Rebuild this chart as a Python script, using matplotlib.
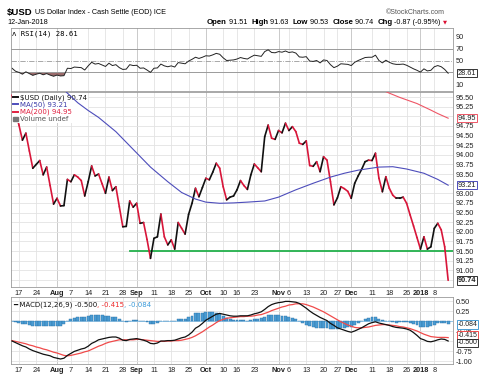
import numpy as np
import pandas as pd
import matplotlib
matplotlib.use('Agg')
import matplotlib.pyplot as plt
from matplotlib.lines import Line2D
from matplotlib.patches import Patch
from matplotlib.collections import LineCollection

# trading days on the chart (ICE had no settle on these days)
holidays = ['2017-09-04', '2017-10-09', '2017-11-23', '2017-12-25', '2018-01-01']
dates = pd.bdate_range('2017-07-13', '2018-01-12')
dates = dates[~dates.isin(pd.to_datetime(holidays))]

close = [95.55, 95.12, 94.77, 94.38, 94.56, 94.10, 93.65, 93.75, 93.85, 93.48,
         93.68, 93.20, 92.72, 92.87, 92.67, 92.68, 93.36, 93.30, 93.48, 93.42,
         93.33, 92.93, 93.30, 93.71, 93.45, 93.50, 93.25, 93.00, 93.42, 93.07,
         93.17, 92.65, 92.13, 92.14, 92.80, 92.64, 92.74, 92.22, 92.24, 91.80,
         91.31, 91.83, 91.87, 92.46, 91.87, 91.66, 91.79, 91.55, 92.24, 92.09,
         91.94, 92.45, 92.74, 93.13, 92.91, 93.15, 93.39, 93.35, 93.55, 93.78,
         93.65, 93.17, 92.83, 92.90, 92.93, 93.09, 93.33, 93.20, 93.10, 93.48,
         93.76, 93.66, 93.56, 94.47, 94.77, 94.43, 94.40, 94.63, 94.57, 94.82,
         94.63, 94.73, 94.60, 94.30, 94.27, 94.36, 93.72, 93.70, 93.82, 93.56,
         93.95, 93.86, 93.30, 92.70, 92.88, 93.17, 93.12, 93.05, 92.87, 93.26,
         93.45, 93.62, 93.82, 93.86, 93.85, 94.04, 93.39, 93.04, 93.43, 93.13,
         92.95, 92.87, 92.87, 92.90, 92.74, 92.44, 92.15, 91.85, 91.55, 91.87,
         91.55, 91.61, 92.09, 92.22, 92.05, 91.61, 90.74]

rsi = [37, 32, 30, 27, 31, 28, 25, 27, 28.5, 26,
       28, 25.5, 23.5, 25.5, 24, 24.5, 37, 36.5, 39, 38.5,
       38, 34, 41, 47, 44, 45, 42.5, 40, 45.5, 41.5,
       43, 38, 35, 35.5, 43, 41.5, 42, 37, 37.5, 34,
       30, 37, 37.5, 44, 41, 39.5, 41, 39, 46.5, 45.5,
       44.5, 49, 52, 55.5, 53.5, 55.5, 58, 57.5, 59.5, 62,
       60.5, 54.5, 50, 50.5, 51, 52.5, 55, 53.5, 52.5, 56,
       59, 58, 57, 65, 68, 63.5, 63, 65, 64, 66,
       63.5, 64.5, 62.5, 56, 55.5, 56.5, 49, 48.5, 50, 46,
       51, 50, 43, 38, 40.5, 44.5, 44, 43.5, 41.5, 47,
       50, 52.5, 55, 55.5, 55.5, 59, 50, 46, 50.5, 47,
       44.5, 43.5, 43.5, 44, 42, 39, 36, 33.5, 30.5, 36,
       32.5, 33.5, 39.5, 41.5, 39.5, 35, 28.61]

macd = [-0.50, -0.54, -0.58, -0.62, -0.65, -0.70, -0.74, -0.77, -0.80, -0.83,
        -0.85, -0.87, -0.91, -0.93, -0.95, -0.93, -0.86, -0.81, -0.76, -0.73,
        -0.70, -0.68, -0.63, -0.56, -0.52, -0.47, -0.45, -0.43, -0.41, -0.40,
        -0.40, -0.43, -0.48, -0.49, -0.46, -0.45, -0.44, -0.46, -0.48, -0.51,
        -0.56, -0.57, -0.55, -0.50, -0.50, -0.49, -0.49, -0.48, -0.45, -0.42,
        -0.40, -0.35, -0.28, -0.18, -0.13, -0.06, 0.02, 0.07, 0.12, 0.17,
        0.19, 0.17, 0.15, 0.13, 0.12, 0.12, 0.13, 0.13, 0.13, 0.15,
        0.18, 0.20, 0.23, 0.29, 0.36, 0.41, 0.44, 0.46, 0.47, 0.49,
        0.49, 0.48, 0.47, 0.44, 0.38, 0.32, 0.25, 0.19, 0.14, 0.09,
        0.05, 0.01, -0.06, -0.11, -0.17, -0.20, -0.23, -0.26, -0.28, -0.25,
        -0.21, -0.17, -0.12, -0.07, -0.04, -0.02, -0.05, -0.07, -0.09, -0.11,
        -0.14, -0.16, -0.17, -0.18, -0.20, -0.23, -0.29, -0.36, -0.44, -0.47,
        -0.51, -0.52, -0.50, -0.47, -0.45, -0.46, -0.50]

signal = [-0.49, -0.51, -0.53, -0.55, -0.57, -0.60, -0.62, -0.65, -0.67, -0.70,
          -0.72, -0.75, -0.78, -0.80, -0.83, -0.86, -0.87, -0.86, -0.84, -0.82,
          -0.80, -0.77, -0.75, -0.71, -0.67, -0.63, -0.60, -0.56, -0.53, -0.51,
          -0.49, -0.47, -0.47, -0.47, -0.47, -0.47, -0.46, -0.46, -0.47, -0.48,
          -0.49, -0.50, -0.51, -0.51, -0.51, -0.50, -0.50, -0.49, -0.49, -0.48,
          -0.46, -0.44, -0.41, -0.37, -0.32, -0.27, -0.21, -0.15, -0.10, -0.04,
          0.01, 0.04, 0.07, 0.08, 0.09, 0.10, 0.11, 0.11, 0.12, 0.12,
          0.13, 0.15, 0.16, 0.19, 0.22, 0.26, 0.29, 0.32, 0.35, 0.37,
          0.40, 0.41, 0.43, 0.43, 0.43, 0.41, 0.38, 0.35, 0.31, 0.27,
          0.23, 0.18, 0.13, 0.08, 0.03, -0.02, -0.06, -0.10, -0.13, -0.16,
          -0.17, -0.17, -0.16, -0.15, -0.13, -0.11, -0.10, -0.09, -0.09, -0.10,
          -0.11, -0.12, -0.14, -0.15, -0.17, -0.19, -0.22, -0.25, -0.29, -0.33,
          -0.36, -0.39, -0.40, -0.41, -0.41, -0.41, -0.415]

ma50_dates = ['2017-07-31', '2017-08-04', '2017-08-09', '2017-08-14', '2017-08-17',
              '2017-08-24', '2017-08-31', '2017-09-08', '2017-09-15', '2017-09-21',
              '2017-09-27', '2017-10-02', '2017-10-06', '2017-10-13', '2017-10-19',
              '2017-10-26', '2017-11-01', '2017-11-08', '2017-11-15', '2017-11-22',
              '2017-11-29', '2017-12-05', '2017-12-13', '2017-12-19', '2017-12-26',
              '2018-01-03', '2018-01-09', '2018-01-12']
ma50_vals = [95.95, 95.60, 95.35, 95.15, 94.97,
             94.60, 94.14, 93.68, 93.30, 93.02,
             92.85, 92.77, 92.74, 92.75, 92.77,
             92.80, 92.90, 93.09, 93.26, 93.42,
             93.52, 93.60, 93.68, 93.69, 93.63,
             93.52, 93.36, 93.21]

ma200_dates = ['2017-12-07', '2017-12-13', '2017-12-18', '2017-12-21', '2017-12-29',
               '2018-01-05', '2018-01-09', '2018-01-12']
ma200_vals = [95.86, 95.72, 95.60, 95.49, 95.33, 95.16, 95.07, 94.95]

support_level = 91.5
support_start = '2017-08-30'

tick_dates = ['2017-07-17', '2017-07-24', '2017-08-01', '2017-08-07', '2017-08-14',
              '2017-08-21', '2017-08-28', '2017-09-01', '2017-09-11', '2017-09-18',
              '2017-09-25', '2017-10-02', '2017-10-10', '2017-10-16', '2017-10-23',
              '2017-11-01', '2017-11-06', '2017-11-13', '2017-11-20', '2017-11-27',
              '2017-12-01', '2017-12-11', '2017-12-18', '2017-12-26', '2018-01-02',
              '2018-01-08']
tick_labels = ['17', '24', 'Aug', '7', '14', '21', '28', 'Sep', '11', '18', '25',
               'Oct', '10', '16', '23', 'Nov', '6', '13', '20', '27', 'Dec', '11',
               '18', '26', '2018', '8']
month_labels = ['Aug', 'Sep', 'Oct', 'Nov', 'Dec', '2018']

plt.rcParams['font.family'] = ['Liberation Sans', 'DejaVu Sans']

x = np.arange(len(dates))
def pos(d):
    return dates.get_loc(pd.Timestamp(d))
tick_pos = [pos(d) for d in tick_dates]
x_lo, x_hi = x[0] - 0.3, x[-1] + 1.4

close = np.array(close)
rsi = np.array(rsi)
macd = np.array(macd)
signal = np.array(signal)
hist = macd - signal

fig = plt.figure(figsize=(5.0, 3.87), dpi=100)
L, W = 11 / 500, 442 / 500
def box(top, bot):
    return [L, 1 - bot / 387, W, (bot - top) / 387]
ax_rsi = fig.add_axes(box(28, 91))
ax_p = fig.add_axes(box(92, 287))
ax_m = fig.add_axes(box(297, 364))

def style(ax, labels):
    for s in ax.spines.values():
        s.set_color('#9a9a9a')
        s.set_linewidth(0.6)
    ax.set_xlim(x_lo, x_hi)
    ax.set_xticks(tick_pos)
    for p, lab in zip(tick_pos, tick_labels):
        c = '#c2c2c2' if lab in month_labels else '#e3e3e3'
        ax.axvline(p, color=c, lw=0.6, zorder=0)
    ax.yaxis.tick_right()
    ax.tick_params(length=0, labelsize=5.3, pad=2, colors='#222222')
    if labels:
        ax.set_xticklabels(tick_labels)
        for t in ax.get_xticklabels():
            if t.get_text() in month_labels:
                t.set_fontweight('bold')
    else:
        ax.set_xticklabels([])

def tag(ax, val, text, ec, bold=False, size=5.3):
    ax.annotate(text, xy=(1, val), xycoords=('axes fraction', 'data'),
                xytext=(3.5, 0), textcoords='offset points', va='center', ha='left',
                fontsize=size, fontweight='bold' if bold else 'normal', color='#222222',
                bbox=dict(boxstyle='square,pad=0.1', fc='white', ec=ec, lw=0.7),
                annotation_clip=False, zorder=8)

# ---- RSI panel
style(ax_rsi, False)
ax_rsi.set_ylim(-1.3, 104.7)
ax_rsi.set_yticks([10, 50, 70, 90])
ax_rsi.axhline(70, color='#9a9a9a', lw=0.7)
ax_rsi.axhline(30, color='#9a9a9a', lw=0.7)
ax_rsi.axhline(50, color='#9a9a9a', lw=0.6, ls='-.')
ax_rsi.fill_between(x, rsi, 30, where=rsi < 30, interpolate=True, color='#9b6b6b', lw=0)
ax_rsi.plot(x, rsi, color='#222222', lw=0.7)
ax_rsi.text(0.003, 0.96, '\u028c RSI(14) 28.61', transform=ax_rsi.transAxes,
            fontsize=5.2, family='DejaVu Sans Mono', va='top', ha='left')
tag(ax_rsi, rsi[-1], '28.61', '#333333')

# ---- price panel
style(ax_p, True)
ax_p.set_ylim(90.566, 95.63)
grid_levels = np.arange(90.75, 95.51, 0.25)
for g in grid_levels:
    ax_p.axhline(g, color='#e3e3e3', lw=0.6, zorder=0)
shown = [g for g in grid_levels if round(g, 2) not in (95.0, 93.25, 90.75)]
ax_p.set_yticks(shown)
ax_p.set_yticklabels(['%.2f' % g for g in shown])

ax_p.axhline(support_level, xmin=(pos(support_start) - x_lo) / (x_hi - x_lo),
             color='#22b04b', lw=1.3, zorder=2)
ma50_x = [pos(d) for d in ma50_dates]
ma200_x = [pos(d) for d in ma200_dates]
ax_p.plot(ma50_x, ma50_vals, color='#4d4dbb', lw=0.8, zorder=7)
ax_p.plot(ma200_x, ma200_vals, color='#ef5666', lw=0.8, zorder=3)

segs = [[(x[i], close[i]), (x[i + 1], close[i + 1])] for i in range(len(x) - 1)]
cols = ['#111111' if close[i + 1] >= close[i] else '#d8163a' for i in range(len(x) - 1)]
ax_p.add_collection(LineCollection(segs, colors=cols, linewidths=1.2, zorder=4,
                                   capstyle='round', joinstyle='round'))

handles = [Line2D([], [], color='#111111', lw=1.4),
           Line2D([], [], color='#4d4dbb', lw=1.4),
           Line2D([], [], color='#e02040', lw=1.4),
           Patch(color='#777777')]
leg = ax_p.legend(handles, ['$USD (Daily) 90.74', 'MA(50) 93.21', 'MA(200) 94.95', 'Volume undef'],
                  loc='upper left', prop={'family': 'DejaVu Sans', 'size': 5},
                  handlelength=0.7, handleheight=0.5, handletextpad=0.3, labelspacing=0.12,
                  borderaxespad=0.15, borderpad=0.15, frameon=True, framealpha=1,
                  facecolor='white', edgecolor='none')
leg.set_zorder(6)
for t, c in zip(leg.get_texts(), ['#111111', '#3a3aa8', '#e02040', '#555555']):
    t.set_color(c)
tag(ax_p, 94.95, '94.95', '#ef5666')
tag(ax_p, 93.21, '93.21', '#4d4dbb')
tag(ax_p, close[-1], '90.74', '#333333', bold=True)

# ---- MACD panel
style(ax_m, True)
ax_m.set_ylim(-1.075, 0.6)
for g in np.arange(-1.0, 0.51, 0.25):
    ax_m.axhline(g, color='#e3e3e3', lw=0.6, zorder=0)
ax_m.set_yticks([0.5, 0.25, -0.25, -0.75, -1.0])
ax_m.set_yticklabels(['0.50', '0.25', '-0.25', '-0.75', '-1.00'])
ax_m.axhline(0, color='#8cc4ea', lw=0.6, zorder=1)
ax_m.bar(x, hist, width=0.85, color='#4a9cd3', edgecolor='#2c73a8', linewidth=0.3, zorder=2)
ax_m.plot(x, signal, color='#f04a4a', lw=0.9, zorder=3)
ax_m.plot(x, macd, color='#111111', lw=0.9, zorder=4)
t1 = ax_m.text(0.004, 0.93, '\u2501 MACD(12,26,9) -0.500', transform=ax_m.transAxes,
               fontsize=5, family='DejaVu Sans', va='top', ha='left', color='#111111')
t2 = ax_m.annotate(', -0.415', xy=(1, 0), xycoords=t1, va='bottom', ha='left',
                   fontsize=5, family='DejaVu Sans', color='#ee2a2a')
ax_m.annotate(', -0.084', xy=(1, 0), xycoords=t2, va='bottom', ha='left',
              fontsize=5, family='DejaVu Sans', color='#3a9ad9')
tag(ax_m, hist[-1], '-0.084', '#4a9cd3', size=5)
tag(ax_m, signal[-1] + 0.06, '-0.415', '#f04a4a', size=5)
tag(ax_m, macd[-1] - 0.045, '-0.500', '#333333', size=5)

# ---- header
def ypx(y):
    return 1 - y / 387
h1 = fig.text(7 / 500, ypx(12), '$USD', fontsize=6.8, fontweight='bold', va='center')
plt.annotate(' US Dollar Index - Cash Settle (EOD) ICE', xy=(1, 0.1), xycoords=h1,
             va='bottom', ha='left', fontsize=5.2, annotation_clip=False)
fig.text(7 / 500, ypx(22), '12-Jan-2018', fontsize=5.2, va='center')
fig.text(445 / 500, ypx(12), '\u00a9StockCharts.com', fontsize=5, va='center', ha='right',
         color='#555555')

parts = [('Open', True), (' 91.51  ', False), ('High', True), (' 91.63  ', False),
         ('Low', True), (' 90.53  ', False), ('Close', True), (' 90.74  ', False),
         ('Chg', True), (' -0.87 (-0.95%) ', False)]
prev = fig.text(207 / 500, ypx(22), parts[0][0], fontsize=5.6, fontweight='bold', va='center')
for txt, b in parts[1:]:
    prev = plt.annotate(txt, xy=(1, 0), xycoords=prev, va='bottom', ha='left',
                        fontsize=5.6 if b else 5.2, fontweight='bold' if b else 'normal',
                        annotation_clip=False)
plt.annotate('\u25bc', xy=(1, 0.15), xycoords=prev, va='bottom', ha='left', fontsize=3.8,
             color='#dd1133', family='DejaVu Sans', annotation_clip=False)

fig.savefig('out.png', dpi=100, facecolor='white')
